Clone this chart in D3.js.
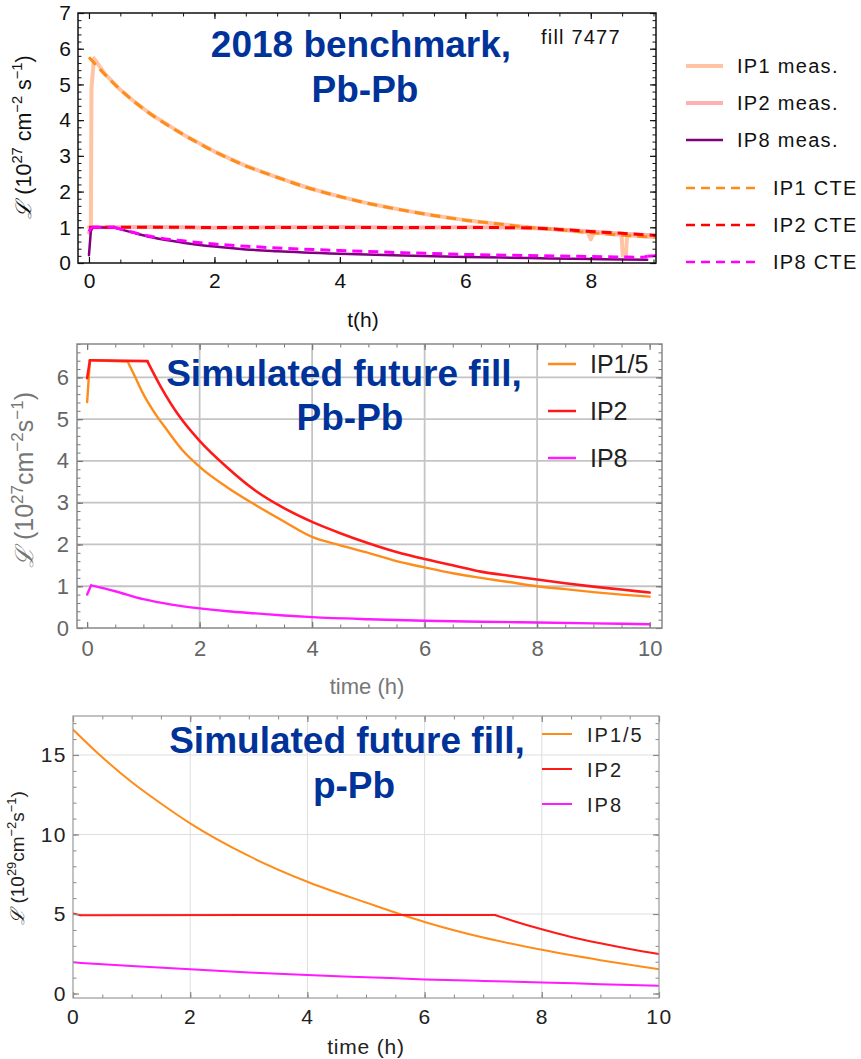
<!DOCTYPE html>
<html>
<head>
<meta charset="utf-8">
<script src="https://cdn.jsdelivr.net/npm/d3@7"></script>
<style>
  body { margin: 0; background: #fff; }
  text { font-family: "Liberation Sans", Arial, Helvetica, sans-serif; }
</style>
</head>
<body>
<svg id="chart" width="861" height="1059"></svg>
<script>
// ===== Panel A: 2018 benchmark, Pb-Pb (fill 7477) =====
const benchTicksX = [0, 2, 4, 6, 8];
const benchTicksY = [0, 1, 2, 3, 4, 5, 6, 7];

const ip1MeasT = [0, 0.03, 0.04, 0.08, 0.25, 0.5, 0.75, 1, 1.5, 2, 2.5, 3, 3.5, 4, 4.5, 5, 5.5, 6, 6.5, 7, 7.5, 7.95, 8.0, 8.05, 8.49, 8.51, 8.56, 8.58, 9.04];
const ip1MeasL = [1.0, 1.0, 4.9, 5.73, 5.3, 4.85, 4.48, 4.15, 3.6, 3.12, 2.72, 2.4, 2.1, 1.86, 1.65, 1.48, 1.33, 1.2, 1.1, 1.0, 0.93, 0.86, 0.66, 0.85, 0.79, 0.21, 0.21, 0.78, 0.72];

const ip2MeasT = [0, 0.04, 1, 2, 3, 4, 5, 6, 6.9, 7.5, 8, 8.5, 9.04];
const ip2MeasL = [0.85, 1.0, 1.01, 0.99, 1.0, 1.01, 0.99, 1.0, 0.99, 0.94, 0.88, 0.82, 0.77];

const ip8MeasT = [0, 0.03, 0.06, 0.4, 0.7, 1, 1.5, 2, 2.5, 3, 4, 5, 6, 7, 8, 8.9];
const ip8MeasL = [0.22, 0.9, 1.0, 0.99, 0.85, 0.72, 0.57, 0.46, 0.38, 0.33, 0.26, 0.21, 0.17, 0.14, 0.11, 0.09];

const ip1CteT = [0, 0.5, 1, 1.5, 2, 2.5, 3, 3.5, 4, 4.5, 5, 5.5, 6, 6.5, 7, 7.5, 8, 8.5, 9.04];
const ip1CteL = [5.76, 4.85, 4.15, 3.6, 3.12, 2.72, 2.4, 2.1, 1.86, 1.65, 1.48, 1.33, 1.2, 1.1, 1.0, 0.93, 0.85, 0.78, 0.72];

const ip2CteT = [0, 6.9, 7.5, 8, 8.5, 9.04];
const ip2CteL = [1.0, 0.99, 0.94, 0.88, 0.83, 0.77];

const ip8CteT = [0, 0.04, 0.4, 0.7, 1, 1.5, 2, 2.5, 3, 4, 5, 6, 7, 8, 8.85, 8.9, 9.04];
const ip8CteL = [0.88, 1.0, 1.0, 0.86, 0.74, 0.62, 0.53, 0.47, 0.42, 0.35, 0.29, 0.24, 0.21, 0.18, 0.16, 0.19, 0.2];

const benchNames = ["IP1 meas.", "IP2 meas.", "IP8 meas.", "IP1 CTE", "IP2 CTE", "IP8 CTE"];

// ===== Panel B: simulated future fill, Pb-Pb =====
const pbTicksX = [0, 2, 4, 6, 8, 10];
const pbTicksY = [0, 1, 2, 3, 4, 5, 6];

const pbIp15T = [0, 0.05, 0.72, 0.85, 1.0, 1.2, 1.42, 1.7, 2, 2.5, 3, 3.5, 4, 4.5, 5, 5.5, 6, 6.5, 7, 7.5, 8, 8.5, 9, 9.5, 10];
const pbIp15L = [5.41, 6.41, 6.38, 6.02, 5.6, 5.15, 4.74, 4.25, 3.86, 3.36, 2.94, 2.55, 2.18, 1.98, 1.8, 1.6, 1.45, 1.31, 1.2, 1.1, 1.0, 0.93, 0.86, 0.8, 0.75];

const pbIp2T = [0, 0.05, 1.07, 1.3, 1.65, 2, 2.5, 3, 3.5, 4, 4.5, 5, 5.5, 6, 6.5, 7, 7.5, 8, 8.5, 9, 9.5, 10];
const pbIp2L = [5.98, 6.41, 6.39, 5.8, 5.05, 4.48, 3.83, 3.28, 2.87, 2.54, 2.27, 2.03, 1.82, 1.65, 1.5, 1.35, 1.25, 1.16, 1.07, 0.99, 0.92, 0.85];

const pbIp8T = [0, 0.07, 0.5, 1, 1.5, 2, 2.5, 3, 3.5, 4, 5, 6, 7, 8, 9, 10];
const pbIp8L = [0.8, 1.02, 0.88, 0.69, 0.56, 0.47, 0.4, 0.35, 0.3, 0.26, 0.21, 0.175, 0.15, 0.13, 0.11, 0.09];

// ===== Panel C: simulated future fill, p-Pb =====
const ppbTicksX = [0, 2, 4, 6, 8, 10];
const ppbTicksY = [0, 5, 10, 15];

const ppbIp15T = [0, 0.5, 1, 1.5, 2, 3, 4, 5, 6, 7, 8, 9, 10];
const ppbIp15L = [16.6, 14.85, 13.3, 11.95, 10.7, 8.65, 7.03, 5.72, 4.5, 3.52, 2.75, 2.1, 1.52];

const ppbIp2T = [0, 0.12, 7.2, 7.5, 8, 8.5, 9, 9.5, 10];
const ppbIp2L = [5.04, 4.93, 4.94, 4.58, 4.04, 3.56, 3.16, 2.8, 2.48];

const ppbIp8T = [0, 1, 2, 3, 4, 5, 6, 7, 8, 9, 10];
const ppbIp8L = [1.96, 1.73, 1.52, 1.33, 1.16, 1.03, 0.89, 0.79, 0.70, 0.59, 0.49];

const futureNames = ["IP1/5", "IP2", "IP8"];

// ---------------------------------------------------------------
const svg = d3.select("#chart");
const zip = (ts, ls) => ts.map((t, i) => ({ t, v: ls[i] }));

// split a series at corner indices so each piece is smoothed separately
function pieces(pts, breaks) {
  const cuts = [0, ...(breaks || []), pts.length - 1];
  const out = [];
  for (let k = 0; k < cuts.length - 1; k++) out.push(pts.slice(cuts[k], cuts[k + 1] + 1));
  return out;
}

function makePanel(cfg) {
  const g = svg.append("g");
  const x = d3.scaleLinear().domain(cfg.xDomain).range(cfg.xRange);
  const y = d3.scaleLinear().domain(cfg.yDomain).range(cfg.yRange);
  const [xl, xr] = cfg.xRange;
  const [yb, yt] = cfg.yRange;

  const clipId = "clip" + cfg.id;
  g.append("clipPath").attr("id", clipId)
    .append("rect").attr("x", xl).attr("y", yt).attr("width", xr - xl).attr("height", yb - yt);

  // grid lines
  if (cfg.grid) {
    g.append("g").selectAll("line").data(cfg.grid.x).join("line")
      .attr("x1", d => x(d)).attr("x2", d => x(d)).attr("y1", yt).attr("y2", yb)
      .attr("stroke", cfg.grid.color).attr("stroke-width", cfg.grid.width);
    g.append("g").selectAll("line").data(cfg.grid.y).join("line")
      .attr("y1", d => y(d)).attr("y2", d => y(d)).attr("x1", xl).attr("x2", xr)
      .attr("stroke", cfg.grid.color).attr("stroke-width", cfg.grid.width);
  }

  // series
  const sg = g.append("g").attr("clip-path", `url(#${clipId})`);
  cfg.series.forEach(s => {
    const line = d3.line().x(d => x(d.t)).y(d => y(d.v))
      .curve(s.sharp ? d3.curveLinear : d3.curveMonotoneX);
    const segs = s.sharp ? [zip(s.t, s.v)] : pieces(zip(s.t, s.v), s.breaks);
    const sgs = sg.append("g");
    segs.forEach(seg => {
      sgs.append("path").datum(seg)
        .attr("d", line).attr("fill", "none")
        .attr("stroke", s.color).attr("stroke-width", s.width)
        .attr("stroke-dasharray", s.dash || null)
        .attr("stroke-linejoin", "round").attr("stroke-linecap", s.dash ? "butt" : "round");
    });
  });

  // axes: inward ticks on all four sides
  const minorX = d3.range(cfg.minorX[0], cfg.minorX[1] + 1e-9, cfg.minorX[2]);
  const minorY = d3.range(cfg.minorY[0], cfg.minorY[1] + 1e-9, cfg.minorY[2]);
  const axes = [
    { a: d3.axisBottom(x).tickValues(cfg.ticksX), tr: `translate(0,${yb})`, lab: true, minor: d3.axisBottom(x).tickValues(minorX) },
    { a: d3.axisTop(x).tickValues(cfg.ticksX), tr: `translate(0,${yt})`, lab: false, minor: d3.axisTop(x).tickValues(minorX) },
    { a: d3.axisLeft(y).tickValues(cfg.ticksY), tr: `translate(${xl},0)`, lab: true, minor: d3.axisLeft(y).tickValues(minorY) },
    { a: d3.axisRight(y).tickValues(cfg.ticksY), tr: `translate(${xr},0)`, lab: false, minor: d3.axisRight(y).tickValues(minorY) }
  ];
  axes.forEach(ax => {
    const m = g.append("g").attr("transform", ax.tr)
      .call(ax.minor.tickSize(-cfg.minorLen).tickSizeOuter(0).tickFormat(""));
    m.select(".domain").remove();
    m.selectAll("line").attr("stroke", cfg.tickColor).attr("stroke-width", 1);
    const a = g.append("g").attr("transform", ax.tr)
      .call(ax.a.tickSize(-cfg.majorLen).tickSizeOuter(0).tickPadding(cfg.tickPad)
        .tickFormat(ax.lab ? d3.format("d") : ""));
    a.select(".domain").remove();
    a.selectAll("line").attr("stroke", cfg.tickColor).attr("stroke-width", 1.2);
    a.selectAll("text").attr("font-size", cfg.tickFont).attr("fill", cfg.labelColor)
      .attr("font-family", "Liberation Sans, Arial, sans-serif")
      .attr("letter-spacing", cfg.tickSpacing || 0);
  });
  // y labels a bit further away than x labels
  g.selectAll("text").filter(function () { return this.getAttribute("x") !== null && +this.getAttribute("x") < 0; })
    .attr("x", -cfg.tickPadY);

  // frame
  g.append("rect").attr("x", xl).attr("y", yt).attr("width", xr - xl).attr("height", yb - yt)
    .attr("fill", "none").attr("stroke", cfg.frameColor).attr("stroke-width", cfg.frameWidth);

  return { g, x, y };
}

function yLabel(cx, cy, exp, size, color, spaced) {
  const t = svg.append("text")
    .attr("transform", `translate(${cx},${cy}) rotate(-90)`)
    .attr("text-anchor", "middle").attr("font-size", size).attr("fill", color);
  t.append("tspan").attr("font-family", "DejaVu Serif, serif").attr("font-style", "italic").text("ℒ");
  t.append("tspan").text(" (10");
  t.append("tspan").attr("dy", -size * 0.42).attr("font-size", size * 0.68).text(exp);
  t.append("tspan").attr("dy", size * 0.42).text(spaced ? " cm" : "cm");
  t.append("tspan").attr("dy", -size * 0.42).attr("font-size", size * 0.68).text("−2");
  t.append("tspan").attr("dy", size * 0.42).text(spaced ? " s" : "s");
  t.append("tspan").attr("dy", -size * 0.42).attr("font-size", size * 0.68).text("−1");
  t.append("tspan").attr("dy", size * 0.42).text(")");
}

function title(cx, lines, baselines) {
  lines.forEach((s, i) => {
    svg.append("text").attr("x", cx[i]).attr("y", baselines[i])
      .attr("text-anchor", "middle").attr("font-size", 37).attr("font-weight", "bold")
      .attr("fill", "#003399").text(s);
  });
}

// ---------------- Panel A ----------------
const benchColors = ["#ffc4a4", "#ffb0b0", "#800080", "#ff8c1a", "#ff0000", "#ff00ff"];
makePanel({
  id: "A",
  xDomain: [-0.175, 9.04], xRange: [78, 656],
  yDomain: [0, 7], yRange: [263, 13],
  ticksX: benchTicksX, ticksY: benchTicksY,
  minorX: [0, 9, 0.5], minorY: [0, 7, 0.2],
  majorLen: 6, minorLen: 3.5, tickPad: 10, tickPadY: 7,
  tickFont: 21, labelColor: "#111", tickColor: "#111",
  frameColor: "#111", frameWidth: 1.5,
  series: [
    { t: ip1MeasT, v: ip1MeasL, color: benchColors[0], width: 4, sharp: true },
    { t: ip2MeasT, v: ip2MeasL, color: benchColors[1], width: 4, breaks: [1] },
    { t: ip8MeasT, v: ip8MeasL, color: benchColors[2], width: 2.5, breaks: [1, 2, 3] },
    { t: ip1CteT, v: ip1CteL, color: benchColors[3], width: 3, dash: "10,6" },
    { t: ip2CteT, v: ip2CteL, color: benchColors[4], width: 3, dash: "10,6", breaks: [1] },
    { t: ip8CteT, v: ip8CteL, color: benchColors[5], width: 3, dash: "10,6", breaks: [1, 2, 14, 15] }
  ]
});
svg.append("text").attr("x", 363).attr("y", 327).attr("text-anchor", "middle")
  .attr("font-size", 21).attr("fill", "#111").text("t(h)");
svg.append("text").attr("x", 541).attr("y", 44).attr("font-size", 20)
  .attr("letter-spacing", 1.2).attr("fill", "#111").text("fill 7477");
yLabel(31, 137, "27", 21.5, "#111", true);
title([361, 365], ["2018 benchmark,", "Pb-Pb"], [57, 102]);

// legend A
const legA = [
  { y: 66, x2: 723, tx: 737 }, { y: 103, x2: 723, tx: 737 }, { y: 140, x2: 723, tx: 737 },
  { y: 188, x2: 755, tx: 773 }, { y: 225, x2: 755, tx: 773 }, { y: 262, x2: 755, tx: 773 }
];
legA.forEach((p, i) => {
  svg.append("line").attr("x1", 686).attr("x2", p.x2).attr("y1", p.y).attr("y2", p.y)
    .attr("stroke", benchColors[i]).attr("stroke-width", i < 2 ? 4 : 2.5)
    .attr("stroke-dasharray", i >= 3 ? "9,6" : null);
  svg.append("text").attr("x", p.tx).attr("y", p.y + 7).attr("font-size", 20)
    .attr("letter-spacing", 1.3).attr("fill", "#111").text(benchNames[i]);
});

// ---------------- Panel B ----------------
const futureColors = ["#ff8c1a", "#ff1a1a", "#ff1aff"];
makePanel({
  id: "B",
  xDomain: [-0.18, 10.22], xRange: [77, 662],
  yDomain: [0, 6.8], yRange: [628, 344],
  ticksX: pbTicksX, ticksY: pbTicksY,
  minorX: [0, 10, 0.5], minorY: [0, 6.8, 0.2],
  majorLen: 6, minorLen: 3.5, tickPad: 12, tickPadY: 8,
  tickFont: 22, labelColor: "#666", tickColor: "#777",
  frameColor: "#888", frameWidth: 1.5,
  grid: { x: [2, 4, 6, 8], y: [1, 2, 3, 4, 5, 6], color: "#c4c4c4", width: 1.8 },
  series: [
    { t: pbIp15T, v: pbIp15L, color: futureColors[0], width: 2.4, breaks: [1, 2] },
    { t: pbIp2T, v: pbIp2L, color: futureColors[1], width: 2.6, breaks: [1, 2] },
    { t: pbIp8T, v: pbIp8L, color: futureColors[2], width: 2.4, breaks: [1] }
  ]
});
svg.append("text").attr("x", 367).attr("y", 694).attr("text-anchor", "middle")
  .attr("font-size", 22).attr("fill", "#777").text("time (h)");
yLabel(33, 480, "27", 25, "#777", false);
title([344, 350], ["Simulated future fill,", "Pb-Pb"], [386, 430]);
[364, 411, 458].forEach((yy, i) => {
  svg.append("line").attr("x1", 548).attr("x2", 576).attr("y1", yy).attr("y2", yy)
    .attr("stroke", futureColors[i]).attr("stroke-width", 2.5);
  svg.append("text").attr("x", 590).attr("y", yy + 9).attr("font-size", 25)
    .attr("fill", "#222").text(futureNames[i]);
});

// ---------------- Panel C ----------------
makePanel({
  id: "C",
  xDomain: [0, 10], xRange: [73, 659],
  yDomain: [-0.28, 17.45], yRange: [998, 716],
  ticksX: ppbTicksX, ticksY: ppbTicksY,
  minorX: [0, 10, 0.5], minorY: [0, 17, 1],
  majorLen: 6, minorLen: 3.5, tickPad: 11, tickPadY: 6,
  tickFont: 21, labelColor: "#222", tickColor: "#888",
  frameColor: "#999", frameWidth: 1.2,
  tickSpacing: 1.5,
  grid: { x: [2, 4, 6, 8], y: [5, 10, 15], color: "#dedede", width: 1 },
  series: [
    { t: ppbIp15T, v: ppbIp15L, color: futureColors[0], width: 2 },
    { t: ppbIp2T, v: ppbIp2L, color: futureColors[1], width: 2, breaks: [1, 2] },
    { t: ppbIp8T, v: ppbIp8L, color: futureColors[2], width: 2 }
  ]
});
svg.append("text").attr("x", 366).attr("y", 1054).attr("text-anchor", "middle")
  .attr("font-size", 21).attr("letter-spacing", 0.8).attr("fill", "#222").text("time (h)");
yLabel(24, 858, "29", 19, "#222", false);
title([347, 354], ["Simulated future fill,", "p-Pb"], [753, 798]);
[734, 769, 804].forEach((yy, i) => {
  svg.append("line").attr("x1", 542).attr("x2", 572).attr("y1", yy).attr("y2", yy)
    .attr("stroke", futureColors[i]).attr("stroke-width", 2);
  svg.append("text").attr("x", 587).attr("y", yy + 8).attr("font-size", 20)
    .attr("letter-spacing", 2).attr("fill", "#222").text(futureNames[i]);
});
</script>
</body>
</html>
